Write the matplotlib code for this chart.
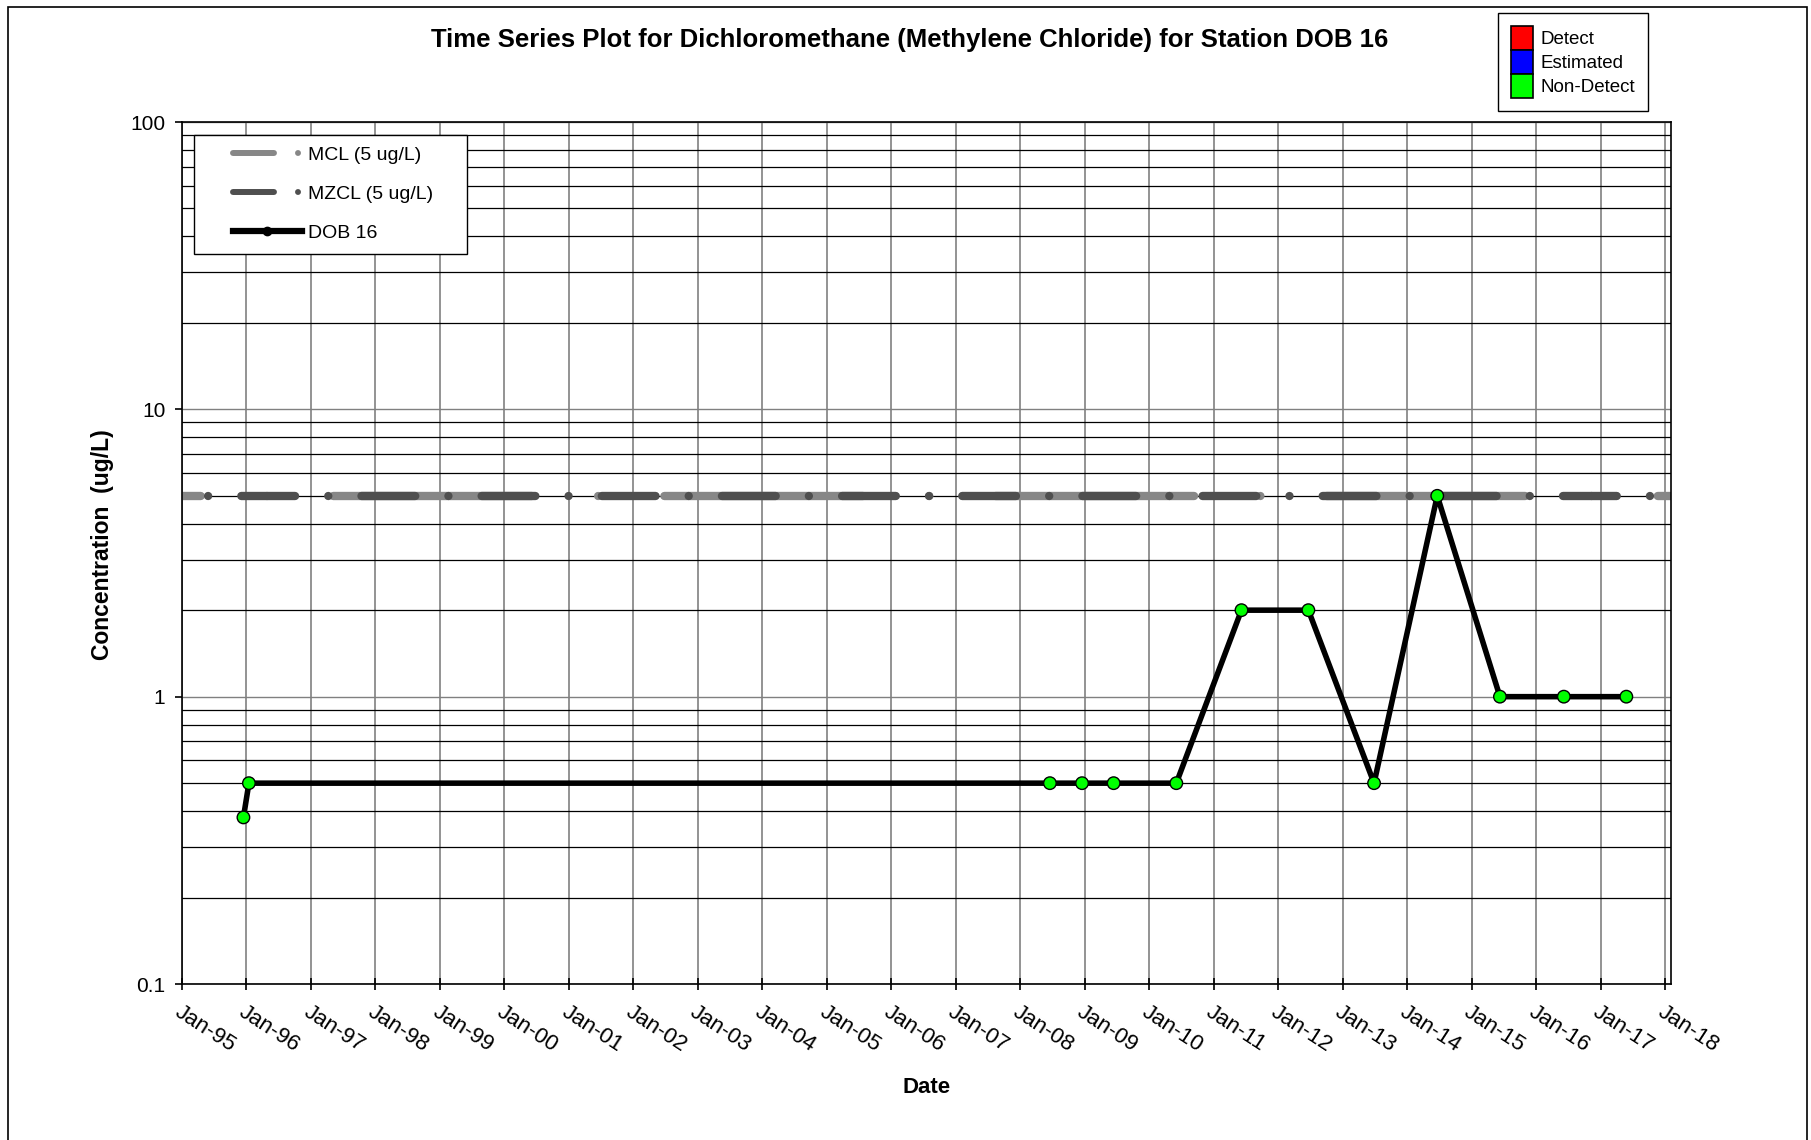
import matplotlib
matplotlib.use('Agg')
import matplotlib.pyplot as plt
import matplotlib.dates as mdates
import pandas as pd
from matplotlib.lines import Line2D
from matplotlib.patches import Patch, Rectangle
from matplotlib.legend_handler import HandlerLine2D
from matplotlib.ticker import FixedLocator, FixedFormatter, LogLocator, NullFormatter

plt.rcParams['font.family'] = ['Liberation Sans', 'DejaVu Sans']
plt.rcParams['lines.scale_dashes'] = False

# --- data ---
sample_dates = pd.to_datetime([
    '1995-12-15', '1996-01-15', '2008-06-17', '2008-12-16', '2009-06-13',
    '2010-06-03', '2011-06-07', '2012-06-20', '2013-06-27', '2014-06-20',
    '2015-06-10', '2016-06-06', '2017-05-26',
])
dob16_values = [0.38, 0.5, 0.5, 0.5, 0.5, 0.5, 2.0, 2.0, 0.5, 5.0, 1.0, 1.0, 1.0]
dob16_status = ['Non-Detect'] * len(dob16_values)

limit_dates = pd.to_datetime(['1995-01-01', '2018-02-03'])
mcl_values = [5, 5]
mzcl_values = [5, 5]

y_ticks = [0.1, 1, 10, 100]
y_ticklabels = ['0.1', '1', '10', '100']

status_names = ['Detect', 'Estimated', 'Non-Detect']
status_colors = ['#FF0000', '#0000FF', '#00FF00']

mcl_color = '#878787'
mzcl_color = '#4f4f4f'

W, H = 1811, 1140
fig = plt.figure(figsize=(W / 100, H / 100), dpi=100)
ax = fig.add_axes([182 / W, 1 - 984 / H, 1489 / W, 862 / H])

ax.set_yscale('log')
ax.set_ylim(0.1, 100)
ax.set_xlim(limit_dates[0], limit_dates[-1])

# grid: grey verticals and decades, black minor horizontals
ax.set_axisbelow(True)
ax.xaxis.set_major_locator(mdates.YearLocator(1, month=1, day=1))
ax.xaxis.set_major_formatter(mdates.DateFormatter('%b-%y'))
ax.yaxis.set_major_locator(FixedLocator(y_ticks))
ax.yaxis.set_major_formatter(FixedFormatter(y_ticklabels))
ax.yaxis.set_minor_locator(LogLocator(base=10, subs=range(2, 10)))
ax.yaxis.set_minor_formatter(NullFormatter())
ax.grid(which='major', axis='x', color='#808080', lw=1.2)
ax.grid(which='major', axis='y', color='#808080', lw=1.0)
ax.grid(which='minor', axis='y', color='black', lw=0.9)

# MCL / MZCL limit lines (Excel-like long dash dot)
ax.plot(limit_dates, mcl_values, color=mcl_color, lw=6,
        linestyle=(129.5, (143.0, 47.7, 0.01, 47.7)), dash_capstyle='round', zorder=2)
ax.plot(limit_dates, mzcl_values, color=mzcl_color, lw=6,
        linestyle=(43.8, (38.7, 23.9, 0.01, 23.9)), dash_capstyle='round', zorder=3)

# DOB 16 series
status_map = dict(zip(status_names, status_colors))
ax.plot(sample_dates, dob16_values, color='black', lw=4.0, zorder=4)
ax.scatter(sample_dates, dob16_values, s=9 ** 2, c=[status_map[s] for s in dob16_status],
           edgecolors='black', linewidths=1.0, zorder=5)

for sp in ax.spines.values():
    sp.set_color('black')
    sp.set_linewidth(1.2)

ax.tick_params(axis='x', direction='inout', length=8.6, width=1.2, pad=8, labelsize=16)
ax.tick_params(axis='y', which='major', direction='out', length=5, width=1.2, pad=7, labelsize=15)
ax.tick_params(axis='y', which='minor', length=0)
for lbl in ax.get_xticklabels():
    lbl.set_rotation(-33)
    lbl.set_ha('left')
    lbl.set_va('top')
    lbl.set_rotation_mode('anchor')

ax.set_xlabel('Date', fontsize=16, fontweight='bold')
ax.xaxis.set_label_coords(0.5, -0.1206)
ax.xaxis.label.set_va('center')
ax.set_ylabel('Concentration  (ug/L)', fontsize=16.5, fontweight='bold')
ax.yaxis.set_label_coords(-0.0537, 0.51)
ax.yaxis.label.set_va('center')

fig.text(910 / W, 1 - 40 / H,
         'Time Series Plot for Dichloromethane (Methylene Chloride) for Station DOB 16',
         ha='center', va='center', fontsize=18.5, fontweight='bold')

# legend for lines
handles = [
    Line2D([], [], color=mcl_color, lw=4.3, linestyle=(0, (29.5, 17.3, 0.01, 200)),
           dash_capstyle='round'),
    Line2D([], [], color=mzcl_color, lw=4.3, linestyle=(0, (29.5, 17.3, 0.01, 200)),
           dash_capstyle='round'),
    Line2D([], [], color='black', lw=4.5, marker='o', ms=6, mfc='black', mec='black'),
]
labels = ['MCL (5 ug/L)', 'MZCL (5 ug/L)', 'DOB 16']
hnd = HandlerLine2D(xpad=1.40)
leg1 = fig.legend(handles, labels, loc='upper left',
                  bbox_to_anchor=(194 / W, 1 - 252 / H, 273 / W, 117 / H),
                  mode='expand', borderaxespad=0, borderpad=0.6, handlelength=4.95,
                  handletextpad=0.31, labelspacing=1.1, fontsize=14, fancybox=False,
                  edgecolor='black', framealpha=1, handler_map={h: hnd for h in handles})
leg1.get_frame().set_linewidth(1.0)

# legend for detection status
patches = [Patch(facecolor=c, edgecolor='black', lw=1.2) for c in status_colors]
leg2 = fig.legend(patches, status_names, loc='upper left',
                  bbox_to_anchor=(1498 / W, 1 - 13 / H), borderaxespad=0, borderpad=0.7,
                  handlelength=1.17, handleheight=1.59, handletextpad=0.37, labelspacing=0,
                  fontsize=13.5, fancybox=False, edgecolor='black', framealpha=1)
leg2.get_frame().set_linewidth(1.0)

# outer frame
fig.patches.append(Rectangle((8 / W, -0.01), 1799 / W, 1 - 7 / H + 0.01,
                             transform=fig.transFigure, fill=False,
                             edgecolor='black', lw=1.2))

fig.savefig('out.png', dpi=100)
